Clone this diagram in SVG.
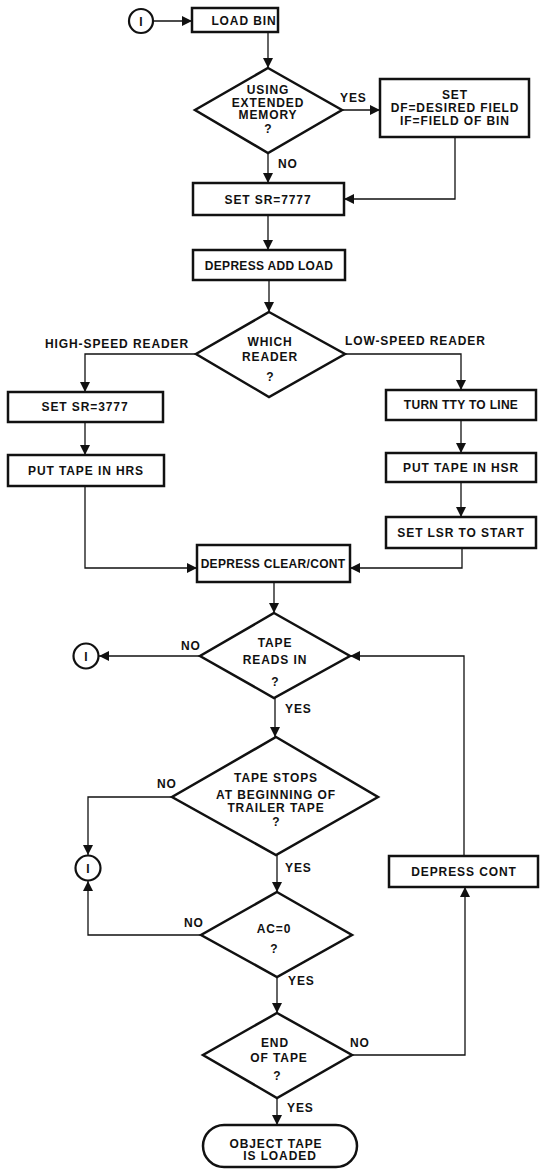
<svg xmlns="http://www.w3.org/2000/svg" width="540" height="1173" viewBox="0 0 540 1173">
<style>
.bx{fill:#fff;stroke:#111;stroke-width:2.5}
.dm{fill:#fff;stroke:#111;stroke-width:2.5}
.cr{fill:#fff;stroke:#111;stroke-width:2.2}
.ln{fill:none;stroke:#111;stroke-width:1.3}
.ar{fill:none;stroke:#111;stroke-width:1.3;marker-end:url(#ah)}
text{font-family:"Liberation Sans",Arial,sans-serif;font-size:12px;font-weight:bold;fill:#111;letter-spacing:0.9px}
.c{text-anchor:middle}
.n{letter-spacing:0.3px}
</style>
<defs>
<marker id="ah" viewBox="0 0 10 10" refX="10" refY="5" markerWidth="11" markerHeight="10" markerUnits="userSpaceOnUse" orient="auto"><path d="M0,0 L10,5 L0,10 z" fill="#111"/></marker>
</defs>
<rect width="540" height="1173" fill="#fff"/>
<g id="connectors">
<line class="ar" x1="153" y1="21" x2="192" y2="21"/>
<line class="ar" x1="268" y1="32" x2="268" y2="68"/>
<line class="ar" x1="342" y1="110" x2="380" y2="110"/>
<polyline class="ar" points="455,137 455,199 344,199"/>
<line class="ar" x1="268" y1="153" x2="268" y2="183"/>
<line class="ar" x1="268" y1="215" x2="268" y2="250"/>
<line class="ar" x1="269" y1="280" x2="269" y2="312"/>
<polyline class="ar" points="196,354 85,354 85,392"/>
<polyline class="ar" points="345,354 461,354 461,390"/>
<line class="ar" x1="85" y1="422" x2="85" y2="455"/>
<polyline class="ar" points="85,486 85,568 197,568"/>
<line class="ar" x1="461" y1="420" x2="461" y2="453"/>
<line class="ar" x1="461" y1="482" x2="461" y2="517"/>
<polyline class="ar" points="462,548 462,568 350,568"/>
<line class="ar" x1="274" y1="582" x2="274" y2="613"/>
<line class="ar" x1="200" y1="656" x2="99" y2="656"/>
<polyline class="ar" points="464,856 464,656 350,656"/>
<line class="ar" x1="275" y1="698" x2="275" y2="737"/>
<polyline class="ar" points="172,797 88,797 88,855"/>
<polyline class="ar" points="201,935 88,935 88,881"/>
<line class="ar" x1="277" y1="855" x2="277" y2="892"/>
<line class="ar" x1="277" y1="977" x2="277" y2="1013"/>
<polyline class="ar" points="352,1055 465,1055 465,887"/>
<line class="ar" x1="277" y1="1098" x2="277" y2="1125"/>
<text x="340" y="102">YES</text>
<text x="278" y="168">NO</text>
<text x="45" y="348">HIGH-SPEED READER</text>
<text x="345" y="345">LOW-SPEED READER</text>
<text x="181" y="650">NO</text>
<text x="285" y="713">YES</text>
<text x="157" y="788">NO</text>
<text x="285" y="872">YES</text>
<text x="184" y="927">NO</text>
<text x="288" y="985">YES</text>
<text x="350" y="1047">NO</text>
<text x="287" y="1112">YES</text>
</g>
<g id="start">
<circle class="cr" cx="141" cy="21" r="12"/>
<text class="c n" x="141" y="25.5">I</text>
</g>
<g id="load-bin">
<rect class="bx" x="192" y="8" width="86" height="24"/>
<text class="c" x="244" y="25">LOAD BIN</text>
</g>
<g id="using-extended">
<polygon class="dm" points="268,68 342,110 268,153 195,110"/>
<text class="c" x="268" y="94">USING</text>
<text class="c" x="268" y="107">EXTENDED</text>
<text class="c" x="268" y="119">MEMORY</text>
<text class="c n" x="268" y="133">?</text>
</g>
<g id="set-df-if">
<rect class="bx" x="380" y="79" width="149" height="58"/>
<text class="c" x="455" y="99">SET</text>
<text class="c" x="455" y="112">DF=DESIRED FIELD</text>
<text class="c" x="455" y="125">IF=FIELD OF BIN</text>
</g>
<g id="set-sr-7777">
<rect class="bx" x="193" y="183" width="151" height="32"/>
<text class="c" x="268" y="204">SET SR=7777</text>
</g>
<g id="depress-add-load">
<rect class="bx" x="193" y="250" width="152" height="30"/>
<text class="c n" x="269" y="270">DEPRESS ADD LOAD</text>
</g>
<g id="which-reader">
<polygon class="dm" points="269,312 345,354 269,397 196,354"/>
<text class="c" x="270" y="346">WHICH</text>
<text class="c" x="270" y="361">READER</text>
<text class="c n" x="270" y="381">?</text>
</g>
<g id="set-sr-3777">
<rect class="bx" x="8" y="392" width="155" height="30"/>
<text class="c" x="85" y="411">SET SR=3777</text>
</g>
<g id="put-tape-hrs">
<rect class="bx" x="8" y="455" width="156" height="31"/>
<text class="c" x="86" y="475">PUT TAPE IN HRS</text>
</g>
<g id="turn-tty">
<rect class="bx" x="386" y="390" width="150" height="30"/>
<text class="c n" x="461" y="409">TURN TTY TO LINE</text>
</g>
<g id="put-tape-hsr">
<rect class="bx" x="386" y="453" width="150" height="29"/>
<text class="c" x="461" y="472">PUT TAPE IN HSR</text>
</g>
<g id="set-lsr">
<rect class="bx" x="386" y="517" width="150" height="31"/>
<text class="c" x="461" y="537">SET LSR TO START</text>
</g>
<g id="depress-clear-cont">
<rect class="bx" x="197" y="545" width="153" height="37"/>
<text class="c n" x="273" y="568">DEPRESS CLEAR/CONT</text>
</g>
<g id="tape-reads-in">
<polygon class="dm" points="274,613 350,656 274,698 200,656"/>
<text class="c" x="275" y="647">TAPE</text>
<text class="c" x="275" y="664">READS IN</text>
<text class="c n" x="275" y="686">?</text>
</g>
<g id="exit-1">
<circle class="cr" cx="86" cy="656" r="12.5"/>
<text class="c n" x="86" y="660.5">I</text>
</g>
<g id="tape-stops">
<polygon class="dm" points="276,737 378,797 276,855 172,797"/>
<text class="c" x="276" y="782">TAPE STOPS</text>
<text class="c" x="276" y="799">AT BEGINNING OF</text>
<text class="c" x="276" y="812">TRAILER TAPE</text>
<text class="c n" x="276" y="826">?</text>
</g>
<g id="exit-2">
<circle class="cr" cx="88" cy="868" r="12.5"/>
<text class="c n" x="88" y="872.5">I</text>
</g>
<g id="ac-zero">
<polygon class="dm" points="277,892 352,935 277,977 201,935"/>
<text class="c" x="274" y="933">AC=0</text>
<text class="c n" x="274" y="953">?</text>
</g>
<g id="depress-cont">
<rect class="bx" x="389" y="856" width="149" height="31"/>
<text class="c" x="464" y="876">DEPRESS CONT</text>
</g>
<g id="end-of-tape">
<polygon class="dm" points="277,1013 352,1055 277,1098 203,1055"/>
<text class="c" x="275" y="1047">END</text>
<text class="c" x="279" y="1062">OF TAPE</text>
<text class="c n" x="277" y="1080">?</text>
</g>
<g id="loaded">
<rect class="bx" x="203" y="1125" width="154" height="42" rx="21"/>
<text class="c" x="276" y="1148">OBJECT TAPE</text>
<text class="c" x="280" y="1160">IS LOADED</text>
</g>
</svg>
